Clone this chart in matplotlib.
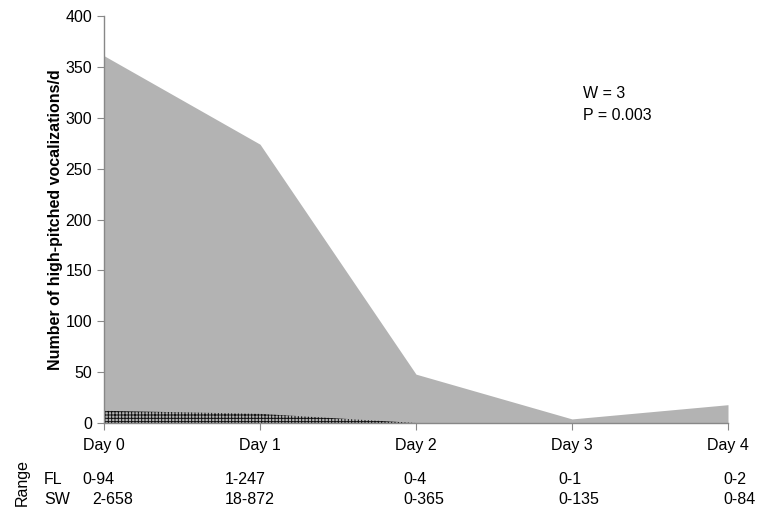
import matplotlib
matplotlib.use("Agg")
import matplotlib.pyplot as plt
import numpy as np

plt.rcParams['font.family'] = ['Liberation Sans', 'DejaVu Sans']
plt.rcParams['hatch.linewidth'] = 0.7

days = ["Day 0", "Day 1", "Day 2", "Day 3", "Day 4"]
sw_values = [361, 274, 48, 4, 18]
fl_values = [12, 9, 0, 0, 0]
fl_ranges = ["0-94", "1-247", "0-4", "0-1", "0-2"]
sw_ranges = ["2-658", "18-872", "0-365", "0-135", "0-84"]
yticks = [0, 50, 100, 150, 200, 250, 300, 350, 400]

W, H = 767, 512
fig = plt.figure(figsize=(W / 100, H / 100), dpi=100)
ax = fig.add_axes([104 / W, (H - 423) / H, (728 - 104) / W, (423 - 16) / H])

x = np.arange(len(days))
ax.fill_between(x, 0, sw_values, color='#b3b3b3', linewidth=0)
ax.fill_between(x, 0, fl_values, facecolor='#b3b3b3', edgecolor='#111111',
                hatch='+++++', linewidth=0)

ax.set_xlim(0, 4)
ax.set_ylim(0, 400)
ax.set_yticks(yticks)
ax.set_xticks(x)
ax.set_xticklabels(days)
for s in ['top', 'right']:
    ax.spines[s].set_visible(False)
for s in ['left', 'bottom']:
    ax.spines[s].set_color('#888888')
    ax.spines[s].set_linewidth(1.0)
ax.tick_params(axis='both', colors='#888888', labelcolor='black',
               labelsize=11.5, length=5, direction='out')
ax.tick_params(axis='x', pad=6)
ax.set_ylabel("Number of high-pitched vocalizations/d", fontsize=11.5,
              fontweight='bold', labelpad=2)

fig.text(583 / W, 1 - 93 / H, "W = 3", fontsize=11.5, va='center', ha='left')
fig.text(583 / W, 1 - 115 / H, "P = 0.003", fontsize=11.5, va='center', ha='left')

# Range table below axis
fig.text(22 / W, 1 - 482 / H, "Range", rotation=90, fontsize=11.5,
         va='center', ha='center')
fig.text(44 / W, 1 - 479 / H, "FL", fontsize=11.5, va='center', ha='left')
fig.text(44 / W, 1 - 500 / H, "SW", fontsize=11.5, va='center', ha='left')
fl_px = [82, 225, 403, 558, 723]
sw_px = [92, 225, 403, 558, 723]
for px, lab in zip(fl_px, fl_ranges):
    fig.text(px / W, 1 - 479 / H, lab, fontsize=11.5, va='center', ha='left')
for px, lab in zip(sw_px, sw_ranges):
    fig.text(px / W, 1 - 500 / H, lab, fontsize=11.5, va='center', ha='left')

fig.savefig("out.png", dpi=100)
